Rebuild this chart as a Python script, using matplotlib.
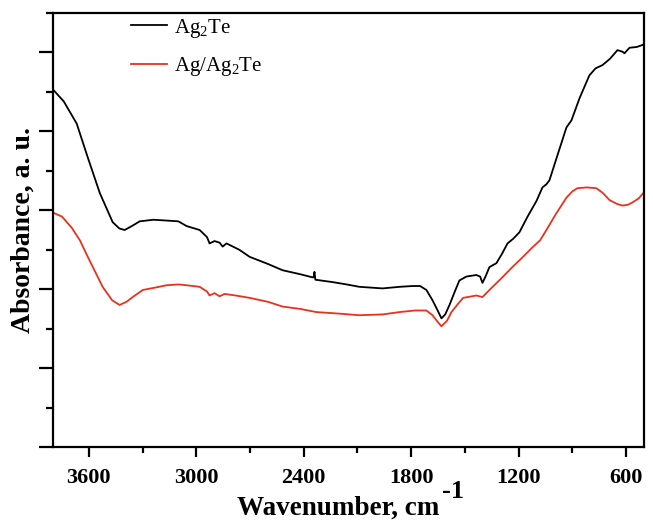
import matplotlib
matplotlib.use("Agg")
import matplotlib.pyplot as plt
from matplotlib.ticker import MultipleLocator, NullFormatter

# Ag2Te spectrum (wavenumber, absorbance a.u.)
wn_ag2te = [3800, 3740, 3668, 3606, 3539, 3467, 3430, 3400, 3360, 3316, 3240, 3166, 3100,
            3054, 2981, 2940, 2926, 2898, 2870, 2853, 2831, 2760, 2702, 2600, 2518, 2420,
            2351, 2345, 2340, 2335, 2239, 2160, 2089, 1960, 1865, 1793, 1750, 1715, 1681,
            1650, 1631, 1610, 1586, 1560, 1531, 1492, 1436, 1415, 1402, 1385, 1363, 1324,
            1295, 1262, 1230, 1196, 1150, 1100, 1067, 1045, 1028, 980, 933, 905, 860, 805,
            770, 732, 690, 648, 620, 609, 581, 540, 503]
abs_ag2te = [4.53, 4.38, 4.10, 3.67, 3.22, 2.85, 2.77, 2.75, 2.80, 2.86, 2.88, 2.87, 2.86,
             2.80, 2.75, 2.66, 2.58, 2.61, 2.59, 2.54, 2.58, 2.50, 2.41, 2.32, 2.24, 2.19,
             2.15, 2.15, 2.22, 2.12, 2.09, 2.06, 2.03, 2.01, 2.03, 2.04, 2.04, 1.99, 1.86,
             1.72, 1.63, 1.68, 1.80, 1.95, 2.11, 2.16, 2.18, 2.16, 2.08, 2.16, 2.28, 2.33,
             2.44, 2.58, 2.64, 2.72, 2.92, 3.12, 3.29, 3.33, 3.38, 3.72, 4.05, 4.14, 4.42,
             4.71, 4.80, 4.84, 4.92, 5.03, 5.01, 4.99, 5.06, 5.07, 5.10]

# Ag/Ag2Te spectrum
wn_agag2te = [3800, 3750, 3696, 3650, 3606, 3560, 3523, 3470, 3428, 3390, 3355, 3299, 3230,
              3166, 3100, 3054, 2981, 2940, 2926, 2898, 2870, 2842, 2780, 2702, 2600, 2518,
              2420, 2330, 2200, 2089, 1960, 1865, 1780, 1715, 1681, 1650, 1631, 1600, 1575,
              1540, 1510, 1436, 1402, 1363, 1300, 1235, 1180, 1123, 1080, 1045, 990, 933,
              900, 872, 820, 766, 730, 693, 650, 620, 590, 564, 530, 503]
abs_agag2te = [2.97, 2.92, 2.78, 2.62, 2.41, 2.20, 2.03, 1.86, 1.80, 1.84, 1.90, 1.99, 2.02,
               2.05, 2.06, 2.05, 2.03, 1.97, 1.92, 1.95, 1.91, 1.94, 1.92, 1.89, 1.84, 1.78,
               1.75, 1.71, 1.69, 1.67, 1.68, 1.71, 1.73, 1.73, 1.67, 1.58, 1.53, 1.60, 1.71,
               1.81, 1.89, 1.92, 1.90, 1.99, 2.13, 2.28, 2.40, 2.53, 2.62, 2.75, 2.96, 3.16,
               3.24, 3.28, 3.29, 3.28, 3.22, 3.13, 3.08, 3.06, 3.07, 3.10, 3.15, 3.22]

label_ag2te = "Ag$_2$Te"
label_agag2te = "Ag/Ag$_2$Te"
x_ticks = [3600, 3000, 2400, 1800, 1200, 600]

plt.rcParams['font.family'] = ['Liberation Serif', 'DejaVu Serif']
plt.rcParams['mathtext.fontset'] = 'custom'
plt.rcParams['mathtext.rm'] = 'Liberation Serif'
plt.rcParams['mathtext.it'] = 'Liberation Serif:italic'
plt.rcParams['mathtext.bf'] = 'Liberation Serif:bold'

fig = plt.figure(figsize=(6.53, 5.22), dpi=100)
ax = fig.add_axes([0.0812, 0.1437, 0.905, 0.8313])

ax.plot(wn_ag2te, abs_ag2te, color='black', lw=1.3, label=label_ag2te)
ax.plot(wn_agag2te, abs_agag2te, color='#e8321e', lw=1.3, label=label_agag2te)

ax.set_xlim(3800, 500)
ax.set_ylim(0, 5.5)
ax.set_xticks(x_ticks)
ax.xaxis.set_minor_locator(MultipleLocator(300))
ax.yaxis.set_major_locator(MultipleLocator(1))
ax.yaxis.set_minor_locator(MultipleLocator(0.5))
ax.yaxis.set_major_formatter(NullFormatter())

for sp in ax.spines.values():
    sp.set_linewidth(1.6)

ax.tick_params(axis='x', which='major', direction='out', length=7, width=1.6,
               labelsize=16, pad=8)
ax.tick_params(axis='x', which='minor', direction='out', length=4, width=1.6)
ax.tick_params(axis='y', which='major', direction='out', length=10, width=1.6)
ax.tick_params(axis='y', which='minor', direction='out', length=5, width=1.6)
for lab in ax.get_xticklabels():
    lab.set_fontweight('bold')

xl = ax.set_xlabel("Wavenumber, cm", fontsize=19.5, fontweight='bold', labelpad=6)
xl.set_x(0.4826)
ax.set_ylabel("Absorbance, a. u.", fontsize=20, fontweight='bold', labelpad=-1)

fig.canvas.draw()
bb = xl.get_window_extent()
fig.text(bb.x1 / fig.bbox.width + 0.004, (522 - 498) / 522, "-1",
         fontsize=19, fontweight='bold', ha='left', va='baseline')

leg = ax.legend(loc='upper left', bbox_to_anchor=(0.1, 1.035), frameon=False,
                fontsize=15, handlelength=1.75, handletextpad=0.3, labelspacing=0.75)

fig.savefig("out.png", dpi=100)
